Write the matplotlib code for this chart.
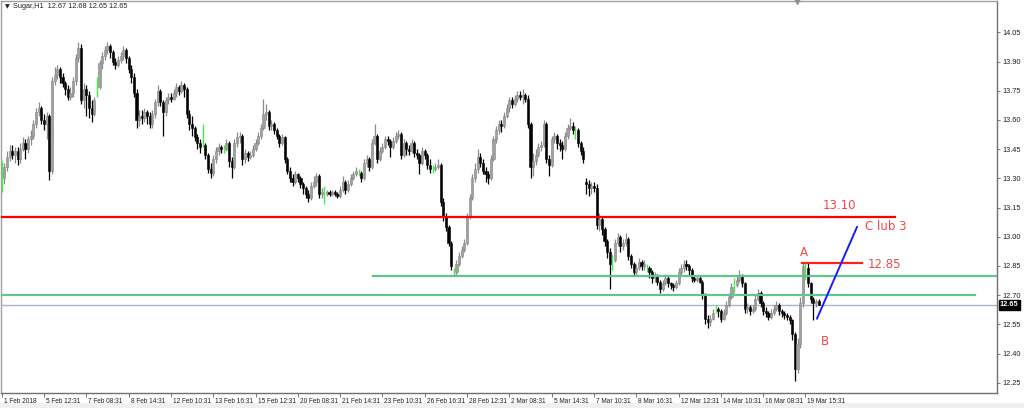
import matplotlib
matplotlib.use("Agg")
import matplotlib.pyplot as plt
from matplotlib.patches import Rectangle
import logging
logging.getLogger("matplotlib.font_manager").setLevel(logging.ERROR)

# ---------------- data (hourly Sugar bars) ----------------
opens = [
13.30,13.30,13.36,13.41,13.44,13.42,13.44,13.40,13.45,13.48,
13.45,13.50,13.52,13.58,13.64,13.66,13.60,13.58,13.62,13.34,
13.80,13.83,13.86,13.82,13.79,13.76,13.72,13.74,13.80,13.92,
13.97,13.70,13.76,13.73,13.66,13.63,13.77,13.77,13.89,13.93,
13.96,13.98,13.95,13.90,13.88,13.91,13.93,13.96,13.92,13.86,
13.82,13.74,13.60,13.62,13.61,13.64,13.62,13.58,13.63,13.69,
13.75,13.69,13.64,13.70,13.72,13.71,13.74,13.77,13.75,13.78,
13.76,13.63,13.58,13.56,13.51,13.48,13.47,13.47,13.42,13.35,
13.33,13.40,13.44,13.46,13.45,13.45,13.48,13.39,13.36,13.48,
13.51,13.52,13.40,13.43,13.41,13.42,13.45,13.48,13.52,13.56,
13.63,13.64,13.57,13.58,13.55,13.52,13.48,13.51,13.40,13.34,
13.30,13.28,13.32,13.30,13.27,13.25,13.22,13.20,13.26,13.28,
13.31,13.22,13.22,13.22,13.23,13.22,13.23,13.22,13.21,13.24,
13.28,13.24,13.27,13.30,13.32,13.33,13.33,13.30,13.38,13.40,
13.36,13.48,13.52,13.40,13.44,13.46,13.50,13.49,13.46,13.49,
13.52,13.53,13.42,13.48,13.45,13.44,13.48,13.43,13.42,13.38,
13.44,13.42,13.37,13.35,13.35,13.36,13.37,13.18,13.10,13.05,
12.97,12.82,12.82,12.86,12.90,12.93,12.97,13.10,13.20,13.30,
13.35,13.41,13.38,13.34,13.32,13.30,13.40,13.50,13.55,13.58,
13.57,13.62,13.66,13.70,13.68,13.71,13.73,13.72,13.73,13.71,
13.58,13.36,13.39,13.42,13.46,13.47,13.58,13.40,13.37,13.50,
13.52,13.48,13.47,13.45,13.52,13.56,13.57,13.55,13.55,13.48,
13.44,13.28,13.27,13.25,13.26,13.25,13.06,13.09,13.04,12.98,
12.92,12.88,12.88,12.97,13.00,12.95,12.97,12.99,12.90,12.86,
12.82,12.84,12.87,12.85,12.84,12.84,12.82,12.79,12.80,12.77,
12.73,12.76,12.79,12.76,12.75,12.74,12.76,12.82,12.84,12.86,
12.85,12.83,12.79,12.78,12.79,12.77,12.70,12.58,12.56,12.58,
12.63,12.63,12.62,12.58,12.61,12.65,12.69,12.75,12.75,12.78,
12.80,12.76,12.63,12.64,12.62,12.63,12.68,12.71,12.66,12.62,
12.61,12.59,12.61,12.63,12.65,12.62,12.61,12.60,12.59,12.57,
12.50,12.32,12.45,12.66,12.84,12.84,12.76,12.68,12.66,12.67]

highs = [
13.39,13.38,13.44,13.47,13.47,13.46,13.46,13.48,13.51,13.50,
13.52,13.55,13.60,13.66,13.69,13.67,13.63,13.64,13.63,13.82,
13.87,13.88,13.87,13.84,13.80,13.78,13.77,13.82,13.94,14.00,
13.99,13.79,13.78,13.75,13.70,13.72,13.82,13.91,13.95,13.98,
14.00,13.99,13.96,13.92,13.93,13.95,13.98,13.97,13.93,13.88,
13.84,13.76,13.65,13.65,13.66,13.65,13.64,13.65,13.71,13.78,
13.76,13.70,13.72,13.74,13.74,13.76,13.79,13.78,13.80,13.79,
13.77,13.65,13.62,13.57,13.53,13.50,13.58,13.48,13.43,13.38,
13.42,13.46,13.48,13.47,13.47,13.50,13.49,13.41,13.50,13.54,
13.54,13.53,13.45,13.44,13.44,13.47,13.50,13.54,13.58,13.71,
13.68,13.65,13.60,13.59,13.56,13.53,13.53,13.52,13.41,13.36,
13.32,13.34,13.33,13.31,13.28,13.26,13.24,13.28,13.31,13.33,
13.32,13.25,13.26,13.24,13.24,13.24,13.24,13.23,13.26,13.31,
13.29,13.29,13.32,13.34,13.36,13.35,13.34,13.40,13.42,13.41,
13.50,13.58,13.53,13.46,13.48,13.52,13.52,13.50,13.51,13.54,
13.55,13.54,13.50,13.49,13.47,13.50,13.49,13.45,13.43,13.46,
13.45,13.43,13.40,13.37,13.38,13.40,13.38,13.20,13.12,13.06,
12.98,12.84,12.88,12.92,12.95,12.99,13.12,13.22,13.32,13.38,
13.45,13.43,13.40,13.36,13.34,13.42,13.52,13.57,13.60,13.60,
13.64,13.68,13.72,13.72,13.73,13.75,13.75,13.76,13.74,13.73,
13.59,13.43,13.45,13.48,13.49,13.60,13.59,13.42,13.52,13.54,
13.53,13.50,13.49,13.54,13.58,13.61,13.59,13.57,13.56,13.49,
13.46,13.30,13.29,13.28,13.28,13.27,13.12,13.10,13.05,12.99,
12.94,12.91,12.99,13.02,13.01,12.99,13.02,13.00,12.91,12.87,
12.86,12.89,12.88,12.88,12.86,12.85,12.83,12.82,12.81,12.78,
12.78,12.81,12.80,12.77,12.76,12.78,12.84,12.86,12.88,12.88,
12.86,12.84,12.80,12.80,12.80,12.78,12.71,12.60,12.60,12.63,
12.65,12.64,12.63,12.63,12.67,12.71,12.76,12.79,12.80,12.83,
12.81,12.77,12.66,12.65,12.65,12.70,12.73,12.72,12.67,12.64,
12.62,12.63,12.65,12.67,12.66,12.63,12.62,12.61,12.60,12.58,
12.51,12.48,12.69,12.87,12.87,12.87,12.77,12.69,12.68,12.68]

lows = [
13.23,13.27,13.34,13.39,13.40,13.38,13.37,13.38,13.44,13.40,
13.43,13.47,13.50,13.56,13.62,13.58,13.55,13.50,13.29,13.32,
13.78,13.81,13.79,13.77,13.73,13.70,13.70,13.72,13.78,13.90,
13.68,13.66,13.62,13.61,13.59,13.62,13.72,13.76,13.86,13.91,
13.94,13.92,13.88,13.86,13.87,13.89,13.91,13.89,13.84,13.79,
13.72,13.56,13.57,13.58,13.59,13.58,13.56,13.56,13.61,13.67,
13.67,13.52,13.62,13.68,13.69,13.70,13.72,13.73,13.74,13.72,
13.61,13.55,13.52,13.49,13.45,13.43,13.46,13.40,13.33,13.30,
13.31,13.38,13.42,13.43,13.43,13.44,13.36,13.30,13.35,13.46,
13.48,13.37,13.38,13.39,13.40,13.41,13.44,13.47,13.50,13.55,
13.60,13.55,13.55,13.53,13.50,13.46,13.47,13.38,13.32,13.28,
13.26,13.27,13.28,13.25,13.22,13.20,13.18,13.19,13.25,13.26,
13.20,13.20,13.17,13.21,13.21,13.21,13.21,13.20,13.20,13.23,
13.22,13.23,13.26,13.29,13.31,13.31,13.28,13.29,13.36,13.34,
13.35,13.47,13.38,13.39,13.43,13.45,13.47,13.41,13.45,13.48,
13.50,13.40,13.41,13.42,13.42,13.43,13.41,13.40,13.32,13.37,
13.40,13.35,13.33,13.33,13.34,13.35,13.16,13.08,13.03,12.95,
12.83,12.80,12.80,12.85,12.89,12.92,12.96,13.09,13.19,13.28,
13.33,13.36,13.32,13.28,13.27,13.29,13.39,13.48,13.53,13.54,
13.56,13.61,13.64,13.66,13.67,13.69,13.70,13.68,13.69,13.56,
13.30,13.31,13.37,13.41,13.44,13.46,13.38,13.31,13.36,13.48,
13.45,13.44,13.40,13.44,13.50,13.55,13.53,13.50,13.46,13.42,
13.38,13.22,13.21,13.22,13.23,13.04,13.03,13.01,12.95,12.89,
12.73,12.83,12.87,12.95,12.92,12.93,12.95,12.88,12.84,12.80,
12.80,12.83,12.83,12.83,12.82,12.79,12.76,12.77,12.75,12.71,
12.72,12.75,12.74,12.73,12.72,12.73,12.75,12.80,12.82,12.83,
12.80,12.77,12.77,12.77,12.76,12.68,12.55,12.53,12.54,12.57,
12.61,12.59,12.56,12.57,12.60,12.64,12.68,12.71,12.74,12.77,
12.74,12.61,12.61,12.60,12.61,12.62,12.67,12.64,12.60,12.59,
12.57,12.58,12.60,12.62,12.60,12.59,12.58,12.57,12.55,12.47,
12.26,12.30,12.43,12.64,12.78,12.74,12.66,12.57,12.64,12.65]

closes = [
13.30,13.36,13.41,13.44,13.42,13.44,13.40,13.45,13.48,13.45,
13.50,13.52,13.58,13.64,13.66,13.60,13.58,13.62,13.34,13.80,
13.83,13.86,13.82,13.79,13.76,13.72,13.74,13.80,13.92,13.97,
13.70,13.76,13.73,13.66,13.63,13.70,13.77,13.89,13.93,13.96,
13.98,13.95,13.90,13.88,13.91,13.93,13.96,13.92,13.86,13.82,
13.74,13.60,13.62,13.61,13.64,13.62,13.58,13.63,13.69,13.75,
13.69,13.64,13.70,13.72,13.71,13.74,13.77,13.75,13.78,13.76,
13.63,13.58,13.56,13.51,13.48,13.46,13.47,13.42,13.35,13.33,
13.40,13.44,13.46,13.45,13.45,13.48,13.39,13.36,13.48,13.51,
13.52,13.40,13.43,13.41,13.42,13.45,13.48,13.52,13.56,13.63,
13.64,13.57,13.58,13.55,13.52,13.48,13.51,13.40,13.34,13.30,
13.28,13.32,13.30,13.27,13.25,13.22,13.20,13.26,13.28,13.31,
13.22,13.23,13.22,13.23,13.22,13.23,13.22,13.21,13.24,13.28,
13.24,13.27,13.30,13.32,13.34,13.33,13.30,13.38,13.40,13.36,
13.48,13.52,13.40,13.44,13.46,13.50,13.49,13.46,13.49,13.52,
13.53,13.42,13.48,13.45,13.44,13.48,13.43,13.42,13.38,13.44,
13.42,13.37,13.35,13.35,13.36,13.37,13.18,13.10,13.05,12.97,
12.85,12.82,12.86,12.90,12.93,12.97,13.10,13.20,13.30,13.35,
13.41,13.38,13.34,13.32,13.30,13.40,13.50,13.55,13.58,13.57,
13.62,13.66,13.70,13.68,13.71,13.73,13.72,13.73,13.71,13.58,
13.36,13.39,13.42,13.46,13.47,13.58,13.40,13.37,13.50,13.52,
13.48,13.47,13.45,13.52,13.56,13.57,13.55,13.55,13.48,13.44,
13.40,13.27,13.25,13.26,13.25,13.06,13.09,13.04,12.98,12.92,
12.86,12.88,12.97,13.00,12.95,12.97,12.99,12.90,12.86,12.82,
12.84,12.87,12.85,12.86,12.84,12.82,12.79,12.80,12.77,12.73,
12.76,12.79,12.76,12.75,12.74,12.76,12.82,12.84,12.86,12.85,
12.83,12.79,12.78,12.79,12.77,12.70,12.58,12.56,12.58,12.61,
12.63,12.62,12.58,12.61,12.65,12.69,12.74,12.75,12.78,12.80,
12.76,12.63,12.64,12.62,12.63,12.68,12.71,12.66,12.62,12.61,
12.59,12.61,12.63,12.65,12.62,12.61,12.60,12.59,12.57,12.50,
12.32,12.45,12.66,12.85,12.84,12.76,12.68,12.66,12.67,12.65]

date_labels = ["1 Feb 2018", "5 Feb 12:31", "7 Feb 08:31", "8 Feb 14:31", "12 Feb 10:31",
               "13 Feb 16:31", "15 Feb 12:31", "20 Feb 08:31", "21 Feb 14:31", "23 Feb 10:31",
               "26 Feb 16:31", "28 Feb 12:31", "2 Mar 08:31", "5 Mar 14:31", "7 Mar 10:31",
               "8 Mar 16:31", "12 Mar 12:31", "14 Mar 10:31", "16 Mar 08:31", "19 Mar 15:31"]
bars_per_label = 16
price_ticks = [12.25, 12.40, 12.55, 12.70, 12.85, 13.00, 13.15, 13.30, 13.45, 13.60, 13.75, 13.90, 14.05]

level_1310 = 13.10
level_1280 = 12.80
level_1270 = 12.70
last_price = 12.65
level_1285 = 12.865
# ---------------------------------------------------------------------------------

small_font = ["Liberation Sans Narrow", "Liberation Sans", "DejaVu Sans"]

W, H = 1024, 408
fig = plt.figure(figsize=(W / 100, H / 100), dpi=100)
fig.patch.set_facecolor("white")
fig.patches.append(Rectangle((0, 0), 1, 5 / H, transform=fig.transFigure,
                             facecolor="#f0f0f0", edgecolor="none", zorder=0))

ax_l, ax_r, ax_t, ax_b = 1, 997, 1, 392.5
ax = fig.add_axes([ax_l / W, (H - ax_b) / H, (ax_r - ax_l) / W, (ax_b - ax_t) / H])

n = len(closes)
px_per_bar = 2.644
x0_px = 1.7
xmin = (ax_l - x0_px) / px_per_bar
xmax = (ax_r - x0_px) / px_per_bar
ax.set_xlim(xmin, xmax)
ax.set_ylim(12.2, 14.211)

body_w = 0.8
for i in range(n):
    o, h, l, c = opens[i], highs[i], lows[i], closes[i]
    if abs(c - o) < 1e-9:
        ax.vlines(i, l, h, color="#44ee44", linewidth=1.0, zorder=3)
    elif c > o:
        ax.vlines(i, l, h, color="#8a8a8a", linewidth=0.9, zorder=2)
        ax.add_patch(Rectangle((i - body_w / 2, o), body_w, c - o,
                               facecolor="#a0a0a0", edgecolor="#858585", linewidth=0.4, zorder=3))
    else:
        ax.vlines(i, l, h, color="#000000", linewidth=0.9, zorder=2)
        ax.add_patch(Rectangle((i - body_w / 2, c), body_w, o - c,
                               facecolor="#000000", edgecolor="#000000", linewidth=0.4, zorder=3))

def px2x(px):
    return (px - x0_px) / px_per_bar

# horizontal levels
ax.plot([xmin, px2x(895)], [level_1310, level_1310], color="#ff0000", lw=1.6, zorder=4)
ax.plot([px2x(373), xmax], [level_1280, level_1280], color="#66c28e", lw=1.6, zorder=4)
ax.plot([xmin, px2x(975)], [level_1270, level_1270], color="#66c28e", lw=1.6, zorder=4)
ax.plot([xmin, xmax], [last_price, last_price], color="#a9b7c9", lw=1.0, zorder=1)
ax.plot([px2x(802), px2x(862)], [level_1285, level_1285], color="#ff2020", lw=1.6, zorder=4)
# blue trend line
ax.plot([px2x(817), px2x(857)], [12.58, 13.05], color="#1a1aff", lw=1.4, zorder=4)

red_txt = "#f04848"
ax.text(px2x(823), 13.16, "13.10", color=red_txt, fontsize=8.5, va="center", ha="left")
ax.text(px2x(865), 13.055, "C lub 3", color=red_txt, fontsize=8.5, va="center", ha="left")
ax.text(px2x(800), 12.92, "A", color=red_txt, fontsize=8.5, va="center", ha="left")
ax.text(px2x(868), 12.86, "12.85", color=red_txt, fontsize=8.5, va="center", ha="left")
ax.text(px2x(821), 12.46, "B", color=red_txt, fontsize=8.5, va="center", ha="left")

# title text
ax.text(4 / (ax_r - ax_l), 1 - 5.5 / (ax_b - ax_t), "\u25bc", family="DejaVu Sans",
        transform=ax.transAxes, fontsize=4.5, va="center", ha="left", color="#202020")
ax.text(12 / (ax_r - ax_l), 1 - 5.5 / (ax_b - ax_t), "Sugar,H1  12.67 12.68 12.65 12.65",
        family=small_font, transform=ax.transAxes, fontsize=5.3, va="center", ha="left", color="#202020")
# shift marker
ax.plot([px2x(797)], [14.211], marker="v", markersize=4, color="#909090", clip_on=False, zorder=6)

# axes styling
for s in ["top", "left"]:
    ax.spines[s].set_color("#a0a0a0")
    ax.spines[s].set_linewidth(1.0)
for s in ["bottom", "right"]:
    ax.spines[s].set_color("#707070")
    ax.spines[s].set_linewidth(1.0)

ax.yaxis.tick_right()
ax.set_yticks(price_ticks)
ax.set_yticklabels([f"{p:.2f}" for p in price_ticks], family=small_font)
ax.tick_params(axis="y", direction="out", length=2, width=0.6, color="#606060",
               labelsize=5.3, pad=2, labelcolor="#202020")

tick_pos = [k * bars_per_label for k in range(len(date_labels))]
ax.set_xticks(tick_pos)
ax.set_xticklabels(date_labels, family=small_font)
ax.tick_params(axis="x", direction="out", length=3, width=0.6, color="#606060",
               labelsize=4.7, pad=1.0, labelcolor="#202020")
for lbl in ax.get_xticklabels():
    lbl.set_horizontalalignment("left")
    lbl.set_x(lbl.get_position()[0])

# nudge x labels a couple of pixels right of their tick marks
import matplotlib.transforms as mtransforms
offset = mtransforms.ScaledTranslation(2 / 100, 0, fig.dpi_scale_trans)
for lbl in ax.get_xticklabels():
    lbl.set_transform(lbl.get_transform() + offset)

# current price box
ax.text(1.0 + 3 / (ax_r - ax_l), last_price, "12.65", transform=ax.get_yaxis_transform(),
        family=small_font, fontsize=5.3, color="white", va="center", ha="left", fontweight="bold",
        bbox=dict(boxstyle="square,pad=0.2", facecolor="black", edgecolor="black"), clip_on=False, zorder=7)

fig.savefig("out.png", dpi=100, facecolor="white")
